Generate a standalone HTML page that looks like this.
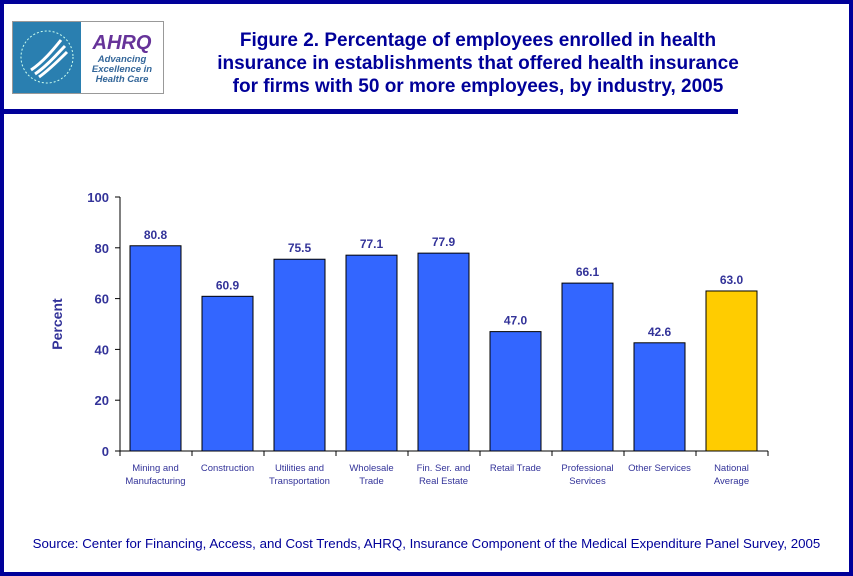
<!DOCTYPE html>
<html><head><meta charset="utf-8"><style>
body{margin:0;width:853px;height:576px;overflow:hidden;background:#fff;font-family:"Liberation Sans",sans-serif}
#frame{position:absolute;left:0;top:0;width:845px;height:568px;border:4px solid #000099}
#title{position:absolute;left:178px;top:29px;width:600px;text-align:center;color:#000099;font-weight:bold;font-size:19px;line-height:23px;white-space:nowrap}
#rule{position:absolute;left:0;top:109px;width:738px;height:5px;background:#000099}
#src{position:absolute;left:0;width:853px;top:536px;text-align:center;color:#000099;font-size:13.3px}
</style></head><body>
<div id="frame"></div>
<div style="position:absolute;left:12px;top:21px;width:150px;height:71px;border:1px solid #999">
 <div style="position:absolute;left:0;top:0;width:68px;height:71px;background:#2a7fb0">
  <svg width="68" height="71"><circle cx="34" cy="35" r="26" fill="none" stroke="#cfe" stroke-width="1" stroke-dasharray="2 2"/><path d="M18 48 C30 40 40 28 48 18 M22 52 C34 44 44 32 52 24 M26 55 C36 48 46 38 54 30" stroke="#fff" stroke-width="3" fill="none"/></svg>
 </div>
 <div style="position:absolute;left:68px;top:0;width:82px;height:71px;background:#fff;text-align:center">
  <div style="color:#663399;font-weight:bold;font-style:italic;font-size:20px;margin-top:10px">AHRQ</div>
  <div style="color:#336699;font-style:italic;font-weight:bold;font-size:9.5px;line-height:10px">Advancing<br>Excellence in<br>Health Care</div>
 </div>
</div>
<div id="title">Figure 2. Percentage of employees enrolled in health<br>insurance in establishments that offered health insurance<br>for firms with 50 or more employees, by industry, 2005</div>
<div id="rule"></div>
<svg id="chart" width="853" height="576" style="position:absolute;left:0;top:0"></svg>
<div id="src">Source: Center for Financing, Access, and Cost Trends, AHRQ, Insurance Component of the Medical Expenditure Panel Survey, 2005</div>
<script>
const categories=[["Mining and","Manufacturing"],["Construction"],["Utilities and","Transportation"],["Wholesale","Trade"],["Fin. Ser. and","Real Estate"],["Retail Trade"],["Professional","Services"],["Other Services"],["National","Average"]];
const values=[80.8,60.9,75.5,77.1,77.9,47.0,66.1,42.6,63.0];
const labels=["80.8","60.9","75.5","77.1","77.9","47.0","66.1","42.6","63.0"];
const yTicks=[0,20,40,60,80,100];
const svg=document.getElementById('chart');const NS="http://www.w3.org/2000/svg";
const x0=120,slot=72,y0=451,y1=197;
const y=v=>y0-(v/100)*(y0-y1);
function mk(t,a,txt){const e=document.createElementNS(NS,t);for(const k in a)e.setAttribute(k,a[k]);if(txt!=null)e.textContent=txt;svg.appendChild(e);return e;}
let e;
e=mk('line',{x1:x0,y1:y1,x2:x0,y2:y0,stroke:'#000'});


e=mk('line',{x1:x0,y1:y0,x2:x0+slot*categories.length,y2:y0,stroke:'#000'});


yTicks.forEach(t=>{
 mk('line',{x1:x0-5,y1:y(t),x2:x0,y2:y(t),stroke:'#000'});
 e=mk('text',{x:x0-11,y:y(t)+5,'text-anchor':'end','font-size':13,'font-weight':'bold',fill:'#333399'},t);
 
 
});
e=mk('text',{x:62,y:324,'text-anchor':'middle','font-size':14,'font-weight':'bold',fill:'#333399',transform:'rotate(-90 62 324)'},'Percent');


for(let i=0;i<=categories.length;i++)mk('line',{x1:x0+i*slot,y1:y0,x2:x0+i*slot,y2:y0+5,stroke:'#000'});
values.forEach((v,i)=>{
 const bx=x0+i*slot+10;
 e=mk('rect',{x:bx,y:y(v),width:51,height:y0-y(v),fill:i==values.length-1?'#FFCC00':'#3366FF',stroke:'#000','stroke-width':1});
 
 
 e=mk('text',{x:bx+25.5,y:y(v)-7,'text-anchor':'middle','font-size':12,'font-weight':'bold',fill:'#333399'},labels[i]);
 
 
 categories[i].forEach((ln,j)=>{
  e=mk('text',{x:bx+25.5,y:471+j*13,'text-anchor':'middle','font-size':9.5,fill:'#333399'},ln);
  
  
 });
});
</script>
</body></html>
